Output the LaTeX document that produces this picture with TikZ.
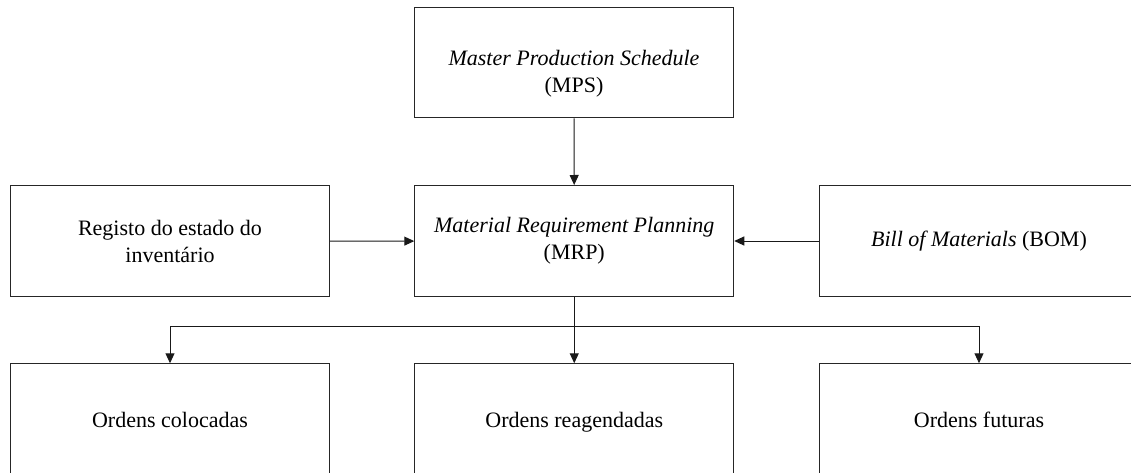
\documentclass[tikz,border=0pt]{standalone}
\usepackage{fontspec}
\setmainfont{Liberation Serif}
\usetikzlibrary{arrows.meta}
\begin{document}
\begin{tikzpicture}[x=1pt,y=1pt,
  box/.style={draw=black!85,line width=1pt,minimum width=319pt,minimum height=111pt,inner sep=0pt,align=center,font=\fontsize{22}{27}\selectfont},
  bot/.style={box,text height=15.5pt,text depth=0pt},
  txt/.style={align=center,inner sep=0pt,font=\fontsize{22}{27}\selectfont},
  arr/.style={draw=black!90,line width=1pt,-{Triangle[length=10pt,width=9pt]}}]
\useasboundingbox (0,0) rectangle (1131,472);
\clip (0,0) rectangle (1131,472);
\node[box,minimum height=110.5pt] (mps) at (574,409.25) {};
\node[txt] (mpstxt) at (574,398) {\textit{Master Production Schedule}\\(MPS)};
\node[box] (inv) at (170,230.75) {Registo do estado do\\inventário};
\node[box] (mrp) at (574.25,231) {\textit{Material Requirement Planning}\\(MRP)};
\node[box] (bom) at (979,231) {\textit{Bill of Materials} (BOM)};
\node[bot] (o1) at (170,52.75) {Ordens colocadas};
\node[bot] (o2) at (574.25,52.75) {Ordens reagendadas};
\node[bot] (o3) at (979,52.75) {Ordens futuras};
\coordinate (br) at (574.25,145.3);
\draw[arr] (mps) -- (mrp);
\draw[arr] (inv) -- (mrp);
\draw[arr] (bom) -- (mrp);
\draw[arr] (mrp) -- (o2);
\draw[arr] (br) -| (o1);
\draw[arr] (br) -| (o3);
\end{tikzpicture}
\end{document}
